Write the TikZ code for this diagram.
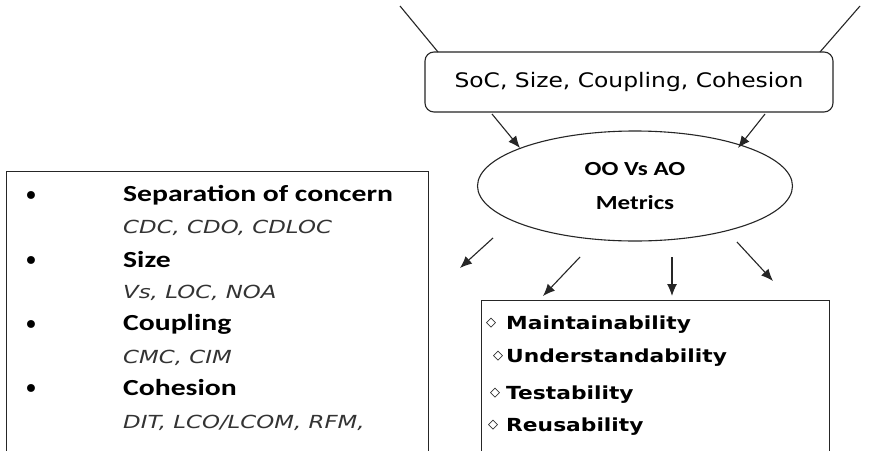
\documentclass[tikz,border=0pt]{standalone}
\usepackage{fontspec}
\setmainfont{DejaVu Sans}
\newfontfamily\headfont[FakeStretch=1.29]{Carlito}
\newfontfamily\oofont[FakeStretch=1.25]{Carlito}
\newfontfamily\socfont[FakeStretch=1.17]{DejaVu Sans}
\newfontfamily\qualfont[FakeStretch=1.21]{DejaVu Sans}
\newfontfamily\subfont[FakeStretch=1.27]{DejaVu Sans}
\newfontfamily\dejavu{DejaVu Sans}
\usetikzlibrary{arrows.meta,shapes.geometric}
\begin{document}
\begin{tikzpicture}[x=1pt,y=-1pt,
  line/.style={draw=black!85, line width=1.1pt},
  arr/.style={line, -{Latex[length=12pt,width=10pt]}},
  head/.style={anchor=west, inner sep=0pt, font=\headfont\bfseries\fontsize{23}{26}\selectfont},
  sub/.style={anchor=west, inner sep=0pt, text=black!80, font=\subfont\itshape\fontsize{18}{20}\selectfont},
  bul/.style={anchor=center, inner sep=0pt, font=\dejavu\fontsize{27}{28}\selectfont},
  qual/.style={anchor=west, inner sep=0pt, font=\qualfont\bfseries\fontsize{18}{21}\selectfont},
  dia/.style={anchor=center, inner sep=0pt, font=\dejavu\fontsize{13}{14}\selectfont}]
\useasboundingbox (0,0) rectangle (886,450);
\fill[white] (0,0) rectangle (886,450);

% top box
\node[line, rounded corners=9pt, minimum width=408pt, minimum height=60pt, inner sep=0pt,
  font=\socfont\fontsize{20}{24}\selectfont] (soc) at (629,82) {SoC, Size, Coupling, Cohesion};

% ellipse
\node[line, ellipse, minimum width=315pt, minimum height=110pt, inner sep=0pt, align=center,
  font=\oofont\bfseries\fontsize{20}{34}\selectfont] (oo) at (635,186) {OO Vs AO\\Metrics};

% incoming top lines
\coordinate (tl) at (400,6);
\coordinate (tle) at (438,52);
\coordinate (tr) at (860,6);
\coordinate (tre) at (820,52);
\draw[line] (tl) -- (tle);
\draw[line] (tr) -- (tre);

% soc -> ellipse
\coordinate (s1) at (492,114);
\coordinate (e1) at (520,148);
\coordinate (s2) at (765,114);
\coordinate (e2) at (738,148);
\draw[arr] (s1) -- (e1);
\draw[arr] (s2) -- (e2);

% left box
\node[line, anchor=north west, minimum width=422pt, minimum height=300pt, inner sep=0pt] (lbox) at (6,171) {};
\foreach \y in {199,264,328,392} \node[bul] at (31,\y) {•};
\node[head] (h1) at (123,195) {Separation of concern};
\node[sub]  (m1) at (123,228) {CDC, CDO, CDLOC};
\node[head] (h2) at (123,260) {Size};
\node[sub]  (m2) at (123,293) {Vs, LOC, NOA};
\node[head] (h3) at (123,324) {Coupling};
\node[sub]  (m3) at (123,358) {CMC, CIM};
\node[head] (h4) at (123,388) {Cohesion};
\node[sub]  (m4) at (123,423) {DIT, LCO/LCOM, RFM,};

% right box
\node[line, anchor=north west, minimum width=348pt, minimum height=170pt, inner sep=0pt] (rbox) at (481,300) {};
\node[dia] at (491,323) {◇};
\node[qual] (q1) at (506,325) {Maintainability};
\node[dia] at (498,356) {◇};
\node[qual] (q2) at (506,358) {Understandability};
\node[dia] at (495,393) {◇};
\node[qual] (q3) at (506,395) {Testability};
\node[dia] at (493,425) {◇};
\node[qual] (q4) at (506,427) {Reusability};

% outgoing arrows
\coordinate (o1) at (493,238);
\coordinate (p1) at (460,268);
\coordinate (o2) at (580,257);
\coordinate (p2) at (543,296);
\coordinate (o3) at (672,257);
\coordinate (p3) at (672,296);
\coordinate (o4) at (737,242);
\coordinate (p4) at (773,281);
\draw[arr] (o1) -- (p1);
\draw[arr] (o2) -- (p2);
\draw[arr] (o3) -- (p3);
\draw[arr] (o4) -- (p4);
\end{tikzpicture}
\end{document}
